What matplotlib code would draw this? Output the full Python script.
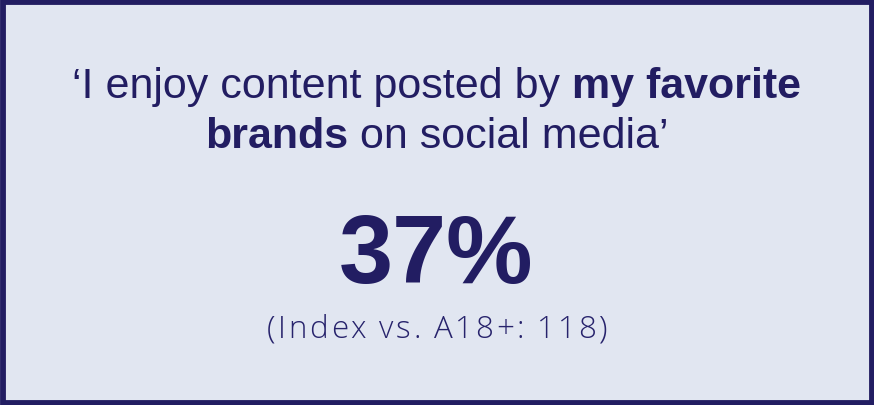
import matplotlib
matplotlib.use("Agg")
import matplotlib.pyplot as plt
from matplotlib.patches import Rectangle

quote_line1 = [("‘I enjoy content posted by ", "normal"), ("my favorite", "bold")]
quote_line2 = [("brands", "bold"), (" on social media’", "normal")]
stat_value = "37%"
index_label = "(Index vs. A18+: 118)"

NAVY = "#221d62"
BG = "#e1e6f1"
FONT = "Liberation Sans"
LABEL_FONT = "Open Sans"

W, H = 874, 406
fig = plt.figure(figsize=(W / 100, H / 100), dpi=100)
fig.patch.set_facecolor(BG)
ax = fig.add_axes([0, 0, 1, 1])
ax.set_xlim(0, W)
ax.set_ylim(H, 0)
ax.axis("off")
ax.add_patch(Rectangle((2.5, 2.5), W - 5, H - 5, fill=False, edgecolor=NAVY, linewidth=4.2))

renderer = fig.canvas.get_renderer()


def draw_segments(segs, y, size, color=NAVY):
    texts = []
    for s, w in segs:
        t = ax.text(0, y, s, fontsize=size, fontweight=w, family=FONT,
                    color=color, va="baseline", ha="left")
        texts.append(t)
    widths = [t.get_window_extent(renderer=renderer).width for t in texts]
    total = sum(widths)
    x = (W - total) / 2
    for t, wd in zip(texts, widths):
        t.set_x(x)
        x += wd


def text_width(s, size, family, weight="normal"):
    t = ax.text(0, 0, s, fontsize=size, family=family, fontweight=weight, alpha=0)
    w = t.get_window_extent(renderer=renderer).width
    t.remove()
    return w


def draw_tracked(s, y, size, color, tracking, family, weight="light"):
    bar = text_width("|", size, family, weight)
    starts = [0.0] + [text_width(s[:i] + "|", size, family, weight) - bar for i in range(1, len(s))]
    total = text_width(s, size, family, weight) + tracking * (len(s) - 1)
    x0 = (W - total) / 2
    for i, ch in enumerate(s):
        if ch == " ":
            continue
        ax.text(x0 + starts[i] + tracking * i, y, ch, fontsize=size, family=family,
                fontweight=weight, color=color, va="baseline", ha="left")


draw_segments(quote_line1, 98, 31)
draw_segments(quote_line2, 148, 31)
ax.text(W / 2 - 1, 283, stat_value, fontsize=70, fontweight="bold", family=FONT,
        color=NAVY, ha="center", va="baseline")
draw_tracked(index_label, 338, 22.5, "#27236c", 2.6, LABEL_FONT)

fig.savefig("out.png", dpi=100, facecolor=BG)
